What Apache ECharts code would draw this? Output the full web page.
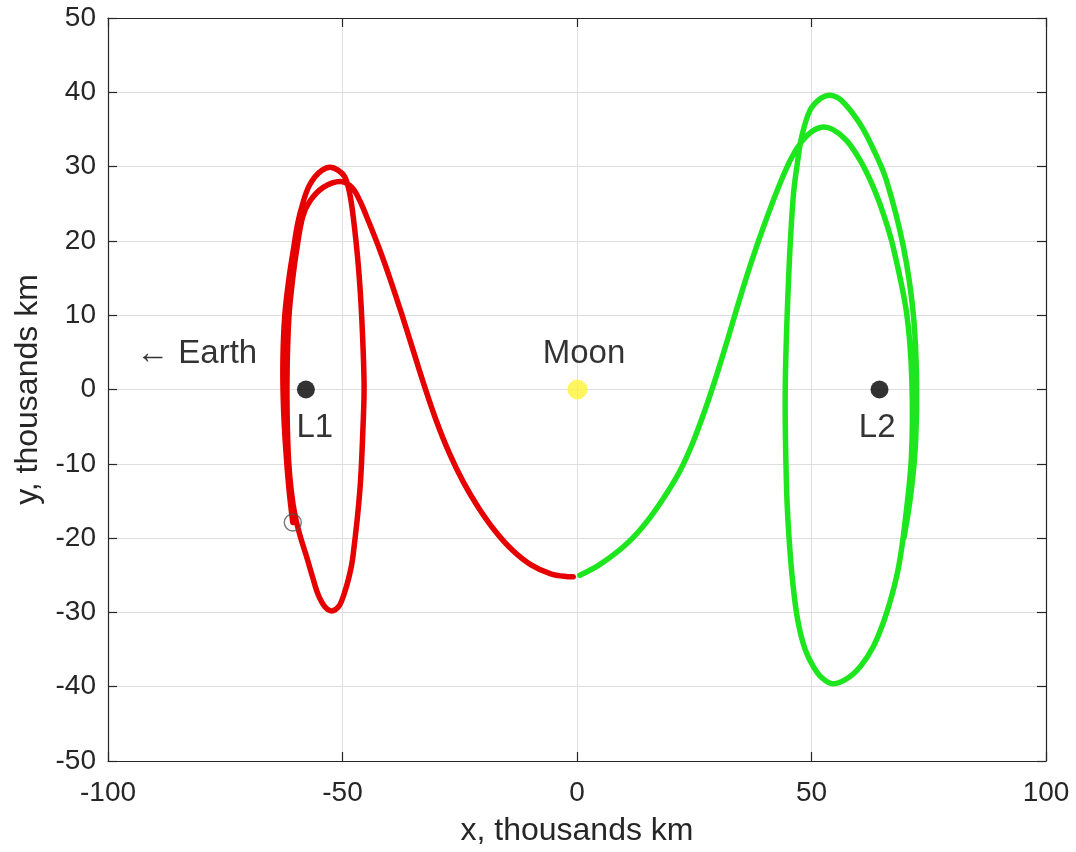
<!DOCTYPE html>
<html>
<head>
<meta charset="utf-8">
<script src="https://cdn.jsdelivr.net/npm/echarts@6/dist/echarts.min.js"></script>
<style>html,body{margin:0;padding:0;background:#fff;}#c{width:1076px;height:852px;}</style>
</head>
<body>
<div id="c"></div>
<script>
// ---- data (thousands km) ----
const xTicks = [-100, -50, 0, 50, 100];
const yTicks = [-50, -40, -30, -20, -10, 0, 10, 20, 30, 40, 50];

// red: trajectory around L1 toward the Moon
const redX = [-60.6,-61.4,-62.1,-62.6,-62.7,-62.3,-61.4,-60.5,-59.5,-58.3,-57.2,-55.9,-54.4,-52.7,-50.9,-49.5,-48.5,-47.7,-46.6,-45.9,-45.4,-45.6,-46.3,-47.8,-48.6,-49.7,-50.8,-52.3,-53.8,-55.2,-56.4,-57.7,-59.0,
              -60.1,-60.9,-61.5,-61.8,-61.8,-61.4,-60.6,-59.8,-58.5,-56.9,-54.1,-50.5,-48.0,-46.3,-44.3,-42.0,-39.7,-37.4,-35.1,-32.6,-30.0,-27.2,-24.2,-21.0,-17.5,-13.8,-9.8,-5.6,-2.0,-0.8];
const redY = [-17.9,-13.5,-8.0,-2.0,4.0,10.0,15.0,18.7,22.5,25.4,27.3,28.6,29.5,29.9,29.5,28.6,26.5,23.2,16.5,9.7,0.8,-4.6,-13.6,-22.6,-25.2,-27.6,-29.2,-29.8,-29.2,-27.6,-25.2,-22.4,-19.8,
              -17.0,-13.8,-9.5,-3.5,3.0,10.0,15.0,18.7,23.2,25.4,27.2,28.0,27.2,25.4,22.4,18.7,14.6,10.2,5.6,0.6,-4.2,-8.6,-12.5,-15.9,-19.0,-21.6,-23.6,-24.8,-25.2,-25.2];

// green: trajectory from below the Moon to the L2 orbit
const greenX = [0.6,4.5,8.3,12.0,15.6,19.0,22.0,24.6,27.1,29.6,32.1,34.6,37.2,40.0,43.0,45.5,47.8,50.0,52.2,54.5,57.5,60.5,63.2,65.5,67.4,70.3,71.4,71.3,69.9,68.6,67.1,65.3,63.1,60.5,57.6,54.6,52.2,50.3,48.6,47.3,46.3,45.4,44.7,44.4,45.1,46.1,47.0,47.9,49.7,52.0,54.0,56.4,60.3,63.3,66.0,69.6,71.7,72.4,72.2,71.2,69.7];
const greenY = [-25.0,-23.7,-22.0,-19.9,-17.2,-14.1,-10.9,-7.3,-3.1,1.6,6.7,12.0,17.2,22.3,27.3,30.9,33.3,34.7,35.3,35.0,33.5,30.7,27.2,23.3,19.2,10.2,1.2,-9.1,-18.1,-23.8,-27.8,-31.4,-34.7,-37.2,-38.9,-39.6,-38.8,-37.2,-34.9,-31.8,-27.7,-21.7,-13.6,0.0,14.7,25.9,30.5,34.0,37.6,39.2,39.6,38.9,35.8,32.2,28.1,19.2,10.2,1.2,-7.0,-14.0,-20.0];

const lagrangeX = [-57.8, 64.5];
const lagrangeY = [0, 0];
const moonX = [0.1];
const moonY = [0];
const startX = [-60.6];
const startY = [-17.9];

const textNames = ['L1', 'L2', 'Moon', '\u2190 Earth'];
const textX = [-55.9, 64.0, 1.5, -81.1];
const textY = [-5.2, -5.2, 4.8, 4.8];

// ---- chart ----
const zip = (xs, ys) => xs.map((x, i) => [x, ys[i]]);
const FONT = "'Liberation Sans', Arial, 'DejaVu Sans', sans-serif";
const AX = '#262626';

const chart = echarts.init(document.getElementById('c'), null, {renderer: 'canvas'});

const baseAxis = (ticks) => ({
  type: 'value',
  min: ticks[0],
  max: ticks[ticks.length - 1],
  interval: ticks[1] - ticks[0],
  axisLine: {show: true, onZero: false, lineStyle: {color: AX, width: 1.2}},
  axisTick: {show: true, inside: true, length: 9, lineStyle: {color: AX, width: 1.2}},
});

// trajectory drawn as one smooth path through the axis scales
function trajectory(name, xs, ys, color) {
  const pts = zip(xs, ys);
  return {
    type: 'custom', name: name, coordinateSystem: 'cartesian2d',
    xAxisIndex: 0, yAxisIndex: 0, silent: true, z: 3,
    data: [pts[0]],
    renderItem: function (params, api) {
      return {
        type: 'polyline',
        shape: {points: pts.map(p => api.coord(p)), smooth: 0.35},
        style: {stroke: color, lineWidth: 5.5, fill: 'none', lineCap: 'round', lineJoin: 'round'}
      };
    }
  };
}

chart.setOption({
  animation: false,
  backgroundColor: '#fff',
  grid: {left: 108, right: 30, top: 18, bottom: 91, containLabel: false},
  xAxis: [
    Object.assign(baseAxis(xTicks), {
      position: 'bottom',
      splitLine: {show: true, lineStyle: {color: '#dedede', width: 1}},
      axisLabel: {show: true, color: AX, fontSize: 28, fontFamily: FONT, margin: 18},
      name: 'x, thousands km',
      nameLocation: 'middle',
      nameGap: 54,
      nameTextStyle: {color: AX, fontSize: 32, fontFamily: FONT}
    }),
    Object.assign(baseAxis(xTicks), {
      position: 'top',
      splitLine: {show: false},
      axisLabel: {show: false}
    })
  ],
  yAxis: [
    Object.assign(baseAxis(yTicks), {
      position: 'left',
      splitLine: {show: true, lineStyle: {color: '#dedede', width: 1}},
      axisLabel: {show: true, color: AX, fontSize: 28, fontFamily: FONT, margin: 12},
      name: 'y, thousands km',
      nameLocation: 'middle',
      nameGap: 52,
      nameTextStyle: {color: AX, fontSize: 32, fontFamily: FONT}
    }),
    Object.assign(baseAxis(yTicks), {
      position: 'right',
      splitLine: {show: false},
      axisLabel: {show: false}
    })
  ],
  series: [
    trajectory('red', redX, redY, '#e60000'),
    trajectory('green', greenX, greenY, '#1ee61e'),
    {
      type: 'scatter', name: 'lagrange', data: zip(lagrangeX, lagrangeY),
      symbol: 'circle', symbolSize: 18,
      itemStyle: {color: '#000'}, z: 5
    },
    {
      type: 'scatter', name: 'moon', data: zip(moonX, moonY),
      symbol: 'circle', symbolSize: 20,
      itemStyle: {color: '#fff23a'}, z: 5
    },
    {
      type: 'scatter', name: 'start', data: zip(startX, startY),
      symbol: 'circle', symbolSize: 17,
      itemStyle: {color: 'rgba(0,0,0,0)', borderColor: '#555', borderWidth: 1.4}, z: 6
    },
    {
      type: 'scatter', name: 'texts',
      data: textNames.map((n, i) => ({name: n, value: [textX[i], textY[i]]})),
      symbolSize: 0, silent: true,
      label: {show: true, position: 'inside', formatter: '{b}', color: '#000', fontSize: 33, fontFamily: FONT},
      z: 7
    }
  ]
});
</script>
</body>
</html>
